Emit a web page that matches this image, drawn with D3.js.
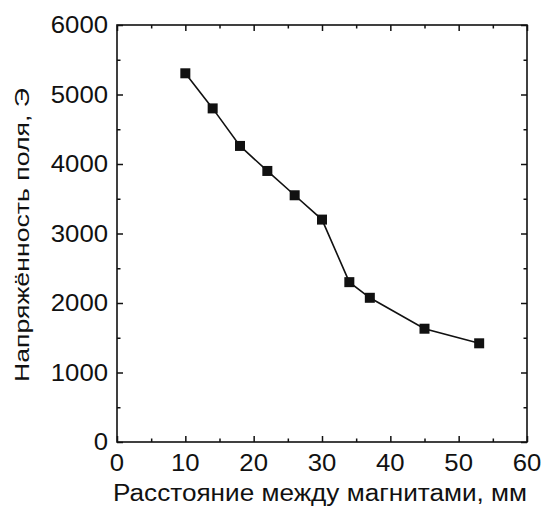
<!DOCTYPE html>
<html>
<head>
<meta charset="utf-8">
<script src="https://cdn.jsdelivr.net/npm/d3@7"></script>
<style>
  body { margin: 0; background: #fff; }
  text { font-family: "Liberation Sans", Arial, sans-serif; fill: #111; }
</style>
</head>
<body>
<div class="chart"></div>
<script>
// data
var distance = [10, 14, 18, 22, 26, 30, 34, 37, 45, 53];
var field = [5305, 4800, 4260, 3900, 3550, 3200, 2300, 2075, 1630, 1420];
var xTicks = [0, 10, 20, 30, 40, 50, 60];
var yTicks = [0, 1000, 2000, 3000, 4000, 5000, 6000];
var xTitle = "Расстояние между магнитами, мм";
var yTitle = "Напряжённость поля, Э";

var width = 544, height = 507;
var margin = {top: 25, right: 17, bottom: 65, left: 117};
var w = width - margin.left - margin.right,
    h = height - margin.top - margin.bottom;

var svg = d3.select(".chart").append("svg")
    .attr("width", width)
    .attr("height", height);

var g = svg.append("g")
    .attr("transform", "translate(" + margin.left + "," + margin.top + ")");

var x = d3.scaleLinear().domain([0, 60]).range([0, w]);
var y = d3.scaleLinear().domain([0, 6000]).range([h, 0]);

var minorX = d3.range(5, 60, 10);
var minorY = d3.range(500, 6000, 1000);

/************* frame ***************/
g.append("rect")
    .attr("width", w).attr("height", h)
    .attr("fill", "none")
    .attr("stroke", "#111")
    .attr("stroke-width", 1.6);

// inward ticks on all four sides
var axes = [
  [() => d3.axisBottom(x), "translate(0," + h + ")", xTicks, minorX],
  [() => d3.axisTop(x), "translate(0,0)", xTicks, minorX],
  [() => d3.axisLeft(y), "translate(0,0)", yTicks, minorY],
  [() => d3.axisRight(y), "translate(" + w + ",0)", yTicks, minorY]
];
axes.forEach(function(a) {
  [[a[2], 6], [a[3], 3.5]].forEach(function(t) {
    g.append("g").attr("transform", a[1])
        .call(a[0]().tickValues(t[0]).tickSize(-t[1]).tickFormat(""))
        .call(s => s.select(".domain").remove())
        .selectAll("line").attr("stroke", "#111").attr("stroke-width", 1.5);
  });
});

/************* tick labels ***************/
// the scanned font is a bit wider than Liberation Sans, so stretch it
var digitW = 14.3;

g.selectAll(".xlab")
    .data(xTicks)
    .enter().append("text")
    .attr("class", "xlab")
    .attr("x", d => x(d))
    .attr("y", h + 29)
    .attr("text-anchor", "middle")
    .attr("textLength", d => String(d).length * digitW)
    .attr("lengthAdjust", "spacingAndGlyphs")
    .style("font-size", "23px")
    .text(d => d);

g.selectAll(".ylab")
    .data(yTicks)
    .enter().append("text")
    .attr("class", "ylab")
    .attr("x", -9)
    .attr("y", d => y(d) + 8)
    .attr("text-anchor", "end")
    .attr("textLength", d => String(d).length * digitW)
    .attr("lengthAdjust", "spacingAndGlyphs")
    .style("font-size", "23px")
    .text(d => d);

/************* axis titles ***************/
svg.append("text")
    .attr("x", 320)
    .attr("y", 501)
    .attr("text-anchor", "middle")
    .attr("textLength", 414)
    .attr("lengthAdjust", "spacingAndGlyphs")
    .style("font-size", "23px")
    .text(xTitle);

svg.append("text")
    .attr("transform", "translate(29,235) rotate(-90)")
    .attr("text-anchor", "middle")
    .attr("textLength", 294)
    .attr("lengthAdjust", "spacingAndGlyphs")
    .style("font-size", "21px")
    .text(yTitle);

/************* line + markers ***************/
var pts = distance.map((d, i) => [d, field[i]]);

g.append("path")
    .datum(pts)
    .attr("fill", "none")
    .attr("stroke", "#111")
    .attr("stroke-width", 1.6)
    .attr("d", d3.line().x(d => x(d[0])).y(d => y(d[1])));

g.selectAll(".pt")
    .data(pts)
    .enter().append("rect")
    .attr("class", "pt")
    .attr("x", d => x(d[0]) - 5)
    .attr("y", d => y(d[1]) - 5)
    .attr("width", 10)
    .attr("height", 10)
    .attr("fill", "#111");
</script>
</body>
</html>
